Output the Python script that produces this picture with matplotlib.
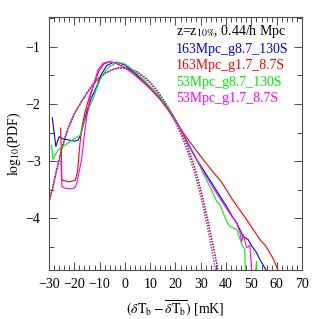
import matplotlib
matplotlib.use("Agg")
import matplotlib.pyplot as plt
from matplotlib.ticker import MultipleLocator

plt.rcParams["font.family"] = ["Liberation Serif", "DejaVu Serif"]
plt.rcParams["mathtext.fontset"] = "stix"

# solid curves (simulations)
blue_x = [-28.7, -27.3, -26.0, -24.5, -22.0, -20.0, -18.5, -17.3, -16.4, -15.0, -13.3, -11.2, -9.3, -7.2,
          -5.0, -3.0, 0.0, 3.2, 7.2, 10.5, 13.9, 17.0, 19.5, 22.0, 25.0, 28.4, 31.0, 33.6, 37.0, 40.2,
          42.5, 44.2, 46.7, 48.7, 50.3, 52.1, 53.4, 55.8, 57.0]
blue_y = [-2.24, -2.74, -2.57, -2.61, -2.63, -2.65, -2.63, -2.52, -2.36, -2.12, -1.90, -1.70, -1.48, -1.33,
          -1.28, -1.27, -1.32, -1.43, -1.59, -1.73, -1.89, -2.07, -2.24, -2.43, -2.69, -2.97, -3.15, -3.33,
          -3.57, -3.79, -3.97, -4.08, -4.31, -4.37, -4.49, -4.60, -4.72, -4.90, -5.10]

red_x = [-25.4, -24.9, -22.0, -19.6, -18.7, -18.0, -17.2, -15.8, -14.2, -12.3, -10.3, -8.3, -6.0, -4.0,
         -1.0, 3.0, 7.2, 10.5, 13.9, 17.0, 20.0, 23.0, 28.0, 33.6, 38.3, 42.5, 48.1, 53.4, 55.5, 56.6,
         58.6, 60.5, 61.5]
red_y = [-2.42, -3.33, -3.36, -3.33, -3.18, -2.80, -2.45, -2.15, -1.90, -1.66, -1.43, -1.30, -1.26, -1.28,
         -1.34, -1.45, -1.61, -1.75, -1.91, -2.09, -2.30, -2.50, -2.80, -3.12, -3.37, -3.67, -4.02, -4.37,
         -4.47, -4.55, -4.70, -4.90, -5.05]

green_x = [-29.0, -28.4, -27.2, -26.3, -23.7, -20.5, -17.7, -16.3, -15.1, -14.0, -12.5, -10.8, -9.2, -7.5,
           -5.9, -3.0, 0.0, 3.2, 7.2, 10.5, 13.9, 17.0, 19.5, 22.0, 25.0, 28.9, 31.0, 34.0, 36.3, 37.6,
           40.2, 41.5, 44.2, 46.2, 47.4, 47.9, 50.5, 52.0, 52.3]
green_y = [-2.72, -2.97, -2.86, -2.80, -2.72, -2.62, -2.55, -2.35, -2.20, -2.05, -1.90, -1.68, -1.52, -1.41,
           -1.34, -1.27, -1.30, -1.41, -1.57, -1.72, -1.88, -2.06, -2.24, -2.44, -2.72, -3.00, -3.22, -3.48,
           -3.70, -3.76, -4.05, -4.14, -4.19, -4.45, -4.54, -5.50, -5.50, -4.75, -5.50]

magenta_x = [-25.3, -24.9, -23.7, -21.0, -19.7, -19.0, -18.2, -17.1, -16.2, -15.1, -13.8, -12.5, -10.6, -8.6,
             -6.0, -4.0, -1.0, 3.0, 7.2, 10.5, 13.9, 17.0, 20.0, 23.0, 25.7, 29.0, 32.0, 35.0, 38.0, 41.0,
             44.2, 45.5, 46.2, 46.8, 48.1, 49.4, 50.1, 50.4]
magenta_y = [-3.00, -3.44, -3.47, -3.48, -3.46, -3.38, -3.20, -2.97, -2.60, -2.22, -1.90, -1.68, -1.40, -1.29,
             -1.26, -1.28, -1.34, -1.46, -1.62, -1.76, -1.92, -2.10, -2.30, -2.52, -2.76, -3.03, -3.25, -3.47,
             -3.68, -3.88, -4.08, -4.25, -4.40, -4.28, -4.51, -4.47, -4.90, -5.50]

# dotted curves
dot_x = [-30, -28.5, -27, -25, -22.5, -20, -17.5, -15, -12.5, -10, -7.5, -5, -2.5, 0, 2.5, 5, 7.5, 10,
         12.5, 15, 17.5, 20, 22.5, 25, 27.5, 30, 32.5, 35, 37.5, 40]
dot_big_y = [-3.70, -3.45, -3.15, -2.78, -2.42, -2.17, -1.98, -1.80, -1.65, -1.53, -1.45, -1.40, -1.37, -1.37,
             -1.39, -1.44, -1.52, -1.62, -1.75, -1.91, -2.08, -2.28, -2.51, -2.78, -3.10, -3.50, -3.98,
             -4.50, -5.05, -5.60]
dot_small_y = [-3.72, -3.47, -3.17, -2.80, -2.43, -2.18, -1.99, -1.81, -1.66, -1.54, -1.46, -1.40, -1.37, -1.37,
               -1.40, -1.45, -1.54, -1.64, -1.78, -1.94, -2.12, -2.32, -2.57, -2.86, -3.20, -3.62, -4.12,
               -4.70, -5.30, -5.90]

labels = ["163Mpc_g8.7_130S", "163Mpc_g1.7_8.7S", "53Mpc_g8.7_130S", "53Mpc_g1.7_8.7S"]
colors = ["#0000ff", "#ff0000", "#00ee00", "#ff00ff"]

fig = plt.figure(figsize=(3.19, 3.19), dpi=100)
ax = fig.add_axes([0.1536, 0.1536, 0.7931, 0.7931])

dotted = [dot_big_y, dot_big_y, dot_small_y, dot_small_y]
for c, dy in zip(colors, dotted):
    ax.plot(dot_x, dy, color=c, lw=0.9, ls=(0, (1, 1.2)))

for xs, ys, c in zip([blue_x, red_x, green_x, magenta_x],
                     [blue_y, red_y, green_y, magenta_y], colors):
    ax.plot(xs, ys, color=c, lw=0.8)

ax.set_xlim(-30, 70)
ax.set_ylim(-4.9, -0.48)
ax.xaxis.set_major_locator(MultipleLocator(10))
ax.xaxis.set_minor_locator(MultipleLocator(2))
ax.yaxis.set_major_locator(MultipleLocator(1))
ax.yaxis.set_minor_locator(MultipleLocator(0.5))
ax.tick_params(which="both", direction="in", top=True, right=True, color="0.3", labelsize=10, pad=6)
ax.tick_params(which="major", length=6, width=0.7)
ax.tick_params(which="minor", length=3.5, width=0.7)
for s in ax.spines.values():
    s.set_color("0.3")
    s.set_linewidth(0.8)

ax.set_xlabel(r"$(\delta\mathrm{T_b}-\overline{\delta\mathrm{T_b}})$ [mK]", fontsize=10, labelpad=5)
ax.set_ylabel(r"$\mathrm{log}_{10}$(PDF)", fontsize=10, labelpad=2)

ax.text(0.502, 0.941, r"z=z$_{10\%}$, 0.44/h Mpc", transform=ax.transAxes, fontsize=10,
        va="center", ha="left", color="black")
ypos = [0.87, 0.81, 0.743, 0.676]
for lab, c, yy in zip(labels, colors, ypos):
    ax.text(0.502, yy, lab, transform=ax.transAxes, fontsize=10, va="center", ha="left", color=c)

fig.savefig("out.png", dpi=100)
